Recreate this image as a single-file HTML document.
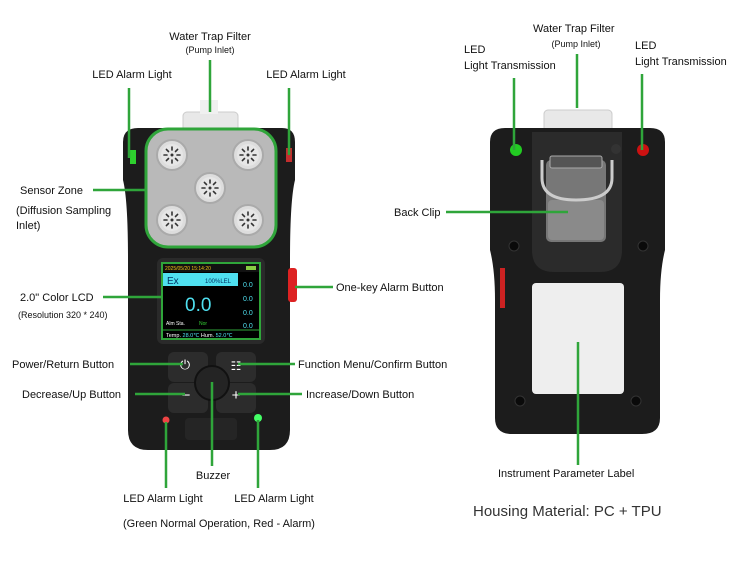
<!DOCTYPE html>
<html><head><meta charset="utf-8"><style>
html,body{margin:0;padding:0;background:#fff;}
svg{display:block;font-family:"Liberation Sans",sans-serif;}
</style></head><body>
<svg width="750" height="562" viewBox="0 0 750 562" xmlns="http://www.w3.org/2000/svg">
<defs>
<g id="sen"><circle r="15" fill="#ddd" stroke="#aaa" stroke-width="2"/><circle r="11" fill="#e6e6e6"/>
<g stroke="#333" stroke-width="1.6" stroke-linecap="round"><line x1="0" y1="-8" x2="0" y2="-5"/><line x1="0" y1="8" x2="0" y2="5"/><line x1="-8" y1="0" x2="-5" y2="0"/><line x1="8" y1="0" x2="5" y2="0"/><line x1="-5.6" y1="-5.6" x2="-3.5" y2="-3.5"/><line x1="5.6" y1="5.6" x2="3.5" y2="3.5"/><line x1="-5.6" y1="5.6" x2="-3.5" y2="3.5"/><line x1="5.6" y1="-5.6" x2="3.5" y2="-3.5"/></g><circle r="1.5" fill="#333"/></g>
</defs>
<!-- FRONT DEVICE -->
<rect x="183" y="112" width="55" height="20" rx="4" fill="#e8e8e8" stroke="#ccc"/>
<rect x="200" y="100" width="18" height="14" fill="#f0f0f0"/>
<path d="M138 128 H282 Q295 128 295 142 V180 Q290 200 290 260 V430 Q290 450 270 450 H148 Q128 450 128 430 V260 Q128 200 123 180 V142 Q123 128 138 128 Z" fill="#1c1c1c"/>
<rect x="146" y="129" width="130" height="118" rx="22" fill="#b9b9b9" stroke="#2fa53a" stroke-width="3"/>
<use href="#sen" x="172" y="155"/><use href="#sen" x="248" y="155"/><use href="#sen" x="210" y="188"/><use href="#sen" x="172" y="220"/><use href="#sen" x="248" y="220"/>
<rect x="130" y="150" width="6" height="14" fill="#3f3" opacity=".8"/><rect x="286" y="148" width="6" height="14" fill="#e33" opacity=".8"/>
<rect x="157" y="258" width="108" height="86" rx="6" fill="#2a2a2a"/>
<rect x="162" y="263" width="98" height="76" fill="#000" stroke="#2fa53a" stroke-width="2"/>
<rect x="163" y="264" width="96" height="8" fill="#111"/>
<text x="165" y="270" font-size="5" fill="#f3c316">2025/05/20 15:14:20</text>
<rect x="246" y="266" width="10" height="4" fill="#8c4"/>
<rect x="163" y="273" width="75" height="13" fill="#4fe0f0"/>
<text x="167" y="284" font-size="10" fill="#036">Ex</text><text x="205" y="283" font-size="6" fill="#036">100%LEL</text>
<text x="185" y="311" font-size="19" fill="#4fe0f0">0.0</text>
<text x="166" y="325" font-size="5" fill="#fff">Alm Sta.</text><text x="199" y="325" font-size="5" fill="#3c3">Nor</text>
<g font-size="7" fill="#4fe0f0"><text x="243" y="287">0.0</text><text x="243" y="301">0.0</text><text x="243" y="315">0.0</text><text x="243" y="328">0.0</text></g>
<line x1="162" y1="330" x2="260" y2="330" stroke="#2fa53a"/>
<text x="166" y="337" font-size="5.5" fill="#fff">Temp. <tspan fill="#4fe0f0">28.0℃</tspan>   Hum. <tspan fill="#4fe0f0">52.0℃</tspan></text>
<rect x="288" y="268" width="9" height="34" rx="3" fill="#d22"/>
<rect x="168" y="352" width="40" height="30" rx="6" fill="#2c2c2c"/><rect x="216" y="352" width="40" height="30" rx="6" fill="#2c2c2c"/>
<rect x="168" y="383" width="40" height="30" rx="6" fill="#2c2c2c"/><rect x="216" y="383" width="40" height="30" rx="6" fill="#2c2c2c"/>
<circle cx="212" cy="383" r="17" fill="#242424" stroke="#111" stroke-width="2"/>
<text x="185" y="369" font-size="13" fill="#fff" text-anchor="middle">⏻</text>
<text x="236" y="370" font-size="12" fill="#fff" text-anchor="middle">☷</text>
<text x="186" y="400" font-size="15" fill="#fff" text-anchor="middle">−</text><text x="236" y="400" font-size="15" fill="#fff" text-anchor="middle">+</text>
<rect x="185" y="418" width="52" height="22" rx="4" fill="#252525"/>
<circle cx="166" cy="420" r="3.5" fill="#e44"/><circle cx="258" cy="418" r="4" fill="#4f6"/>
<!-- FRONT CONNECTORS -->
<g stroke="#2fa53a" stroke-width="2.5" fill="none">
<line x1="129" y1="88" x2="129" y2="158"/><line x1="289" y1="88" x2="289" y2="155"/>
<line x1="210" y1="60" x2="210" y2="112"/>
<line x1="93" y1="190" x2="146" y2="190"/><line x1="103" y1="297" x2="162" y2="297"/>
<line x1="130" y1="364" x2="183" y2="364"/><line x1="135" y1="394" x2="185" y2="394"/>
<line x1="238" y1="364" x2="295" y2="364"/><line x1="238" y1="394" x2="302" y2="394"/>
<line x1="295" y1="287" x2="333" y2="287"/>
<line x1="166" y1="422" x2="166" y2="488"/><line x1="258" y1="420" x2="258" y2="488"/><line x1="212" y1="382" x2="212" y2="466"/>
</g>
<g font-size="11" fill="#111">
<text x="210" y="40" text-anchor="middle">Water Trap Filter</text><text x="210" y="53" text-anchor="middle" font-size="9">(Pump Inlet)</text>
<text x="132" y="78" text-anchor="middle">LED Alarm Light</text><text x="306" y="78" text-anchor="middle">LED Alarm Light</text>
<text x="20" y="194">Sensor Zone</text><text x="16" y="214">(Diffusion Sampling</text><text x="16" y="229">Inlet)</text>
<text x="20" y="301">2.0" Color LCD</text><text x="18" y="318" font-size="9">(Resolution 320 * 240)</text>
<text x="336" y="291">One-key Alarm Button</text>
<text x="12" y="368">Power/Return Button</text><text x="22" y="398">Decrease/Up Button</text>
<text x="298" y="368">Function Menu/Confirm Button</text><text x="306" y="398">Increase/Down Button</text>
<text x="213" y="479" text-anchor="middle">Buzzer</text>
<text x="163" y="502" text-anchor="middle">LED Alarm Light</text><text x="274" y="502" text-anchor="middle">LED Alarm Light</text>
<text x="219" y="527" text-anchor="middle">(Green Normal Operation, Red - Alarm)</text>
</g>
<!-- BACK DEVICE -->
<rect x="544" y="110" width="68" height="24" rx="4" fill="#e8e8e8" stroke="#ccc"/>
<path d="M505 128 H650 Q665 128 665 142 V250 Q660 270 660 300 V418 Q660 434 642 434 H512 Q495 434 495 418 V300 Q495 270 490 250 V142 Q490 128 505 128 Z" fill="#1c1c1c"/>
<path d="M532 132 H622 V250 Q622 272 600 272 H554 Q532 272 532 250 Z" fill="#2b2b2b"/>
<rect x="546" y="160" width="60" height="82" rx="5" fill="#777"/>
<rect x="548" y="200" width="56" height="40" rx="4" fill="#8a8a8a"/>
<path d="M542 160 V178 Q542 200 576 200 Q612 200 612 178 V160" fill="none" stroke="#ccc" stroke-width="3"/>
<rect x="550" y="156" width="52" height="12" rx="2" fill="#555" stroke="#aaa"/>
<circle cx="516" cy="150" r="6" fill="#2c2"/><circle cx="643" cy="150" r="6" fill="#c11"/>
<circle cx="616" cy="149" r="5" fill="#333"/>
<circle cx="514" cy="246" r="5" fill="#0a0a0a" stroke="#333"/><circle cx="643" cy="246" r="5" fill="#0a0a0a" stroke="#333"/><circle cx="520" cy="401" r="5" fill="#0a0a0a" stroke="#333"/><circle cx="636" cy="401" r="5" fill="#0a0a0a" stroke="#333"/>
<rect x="500" y="268" width="5" height="40" fill="#c22"/>
<rect x="532" y="283" width="92" height="111" rx="4" fill="#eee"/>
<g stroke="#2fa53a" stroke-width="2.5">
<line x1="514" y1="78" x2="514" y2="150"/><line x1="642" y1="74" x2="642" y2="150"/>
<line x1="577" y1="54" x2="577" y2="108"/><line x1="446" y1="212" x2="568" y2="212"/>
<line x1="578" y1="342" x2="578" y2="465"/>
</g>
<g font-size="11" fill="#111">
<text x="533" y="32">Water Trap Filter</text><text x="576" y="47" text-anchor="middle" font-size="9">(Pump Inlet)</text>
<text x="464" y="53">LED</text><text x="464" y="69">Light Transmission</text>
<text x="635" y="49">LED</text><text x="635" y="65">Light Transmission</text>
<text x="394" y="216">Back Clip</text>
<text x="498" y="477">Instrument Parameter Label</text>
<text x="473" y="516" font-size="15" fill="#333">Housing Material: PC + TPU</text>
</g>
</svg>
</body></html>
